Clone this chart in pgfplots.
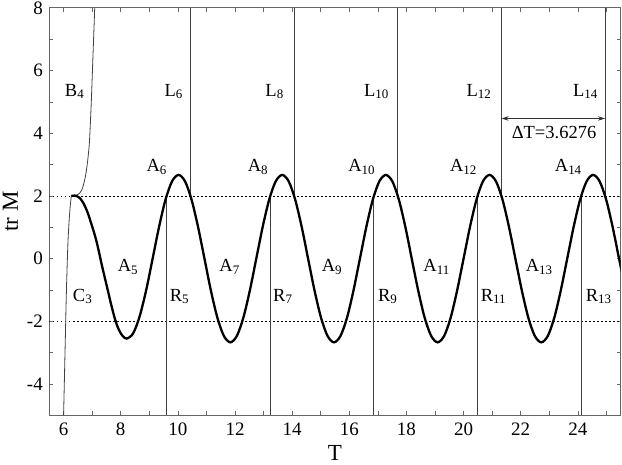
\documentclass[border=0pt]{standalone}
\usepackage{fontspec}
\setmainfont{Liberation Serif}
\usepackage{pgfplots}
\pgfplotsset{compat=1.18}
\usetikzlibrary{arrows.meta,calc}

\begin{document}
\begin{tikzpicture}
\begin{axis}[
  width=571.4pt, height=407.6pt, scale only axis,
  xmin=5.5, xmax=25.5, ymin=-5, ymax=8,
  xtick={6,8,...,24}, minor xtick={7,9,...,25},
  ytick={-4,-2,...,8}, minor ytick={-5,-3,...,7},
  major tick length=4pt, minor tick length=4pt,
  tick style={black!60, line width=0.6pt},
  axis line style={black!60, line width=0.8pt},
  /pgf/number format/assume math mode=true,
  ticklabel style={font=\fontsize{19}{22}\selectfont},
  xticklabel style={yshift=-4pt},
  yticklabel style={xshift=-3pt},
  xlabel={T}, ylabel={tr M},
  label style={font=\fontsize{23}{26}\selectfont},
  xlabel style={at={(axis description cs:0.5,0)}, anchor=base, yshift=-44.8pt, inner sep=0pt},
  ylabel style={at={($(axis description cs:0,0.5)+(-31.3pt,0)$)}, anchor=base, inner sep=0pt},
  clip=true,
]
\coordinate (bl) at (rel axis cs:0,0);
\coordinate (tr) at (rel axis cs:1,1);

% dotted reference lines
\addplot[black, line width=0.6pt, dash pattern=on 1.2pt off 2.8pt] coordinates {(5.5,2) (25.5,2)};
\addplot[black, line width=0.6pt, dash pattern=on 1.2pt off 2.8pt] coordinates {(5.5,-2) (25.5,-2)};

% thin branches
\addplot[black!75, line width=0.8pt, smooth] coordinates {
(6.00,-5.0) (6.05,-3.0) (6.10,-1.0) (6.15,0.45) (6.19,1.15) (6.23,1.65) (6.27,2.0)};
\addplot[black!75, line width=0.8pt, smooth] coordinates {
(6.27,2.00) (6.40,2.01) (6.53,2.06) (6.63,2.18) (6.70,2.37) (6.77,2.65) (6.82,2.95) (6.87,3.35) (6.91,3.8) (6.97,5.0) (7.03,6.5) (7.09,8.0)};
\addplot[black!75, line width=0.8pt] coordinates {(9.606,-5) (9.606,2)};
\addplot[black!75, line width=0.8pt] coordinates {(13.23,-5) (13.23,2)};
\addplot[black!75, line width=0.8pt] coordinates {(16.86,-5) (16.86,2)};
\addplot[black!75, line width=0.8pt] coordinates {(20.49,-5) (20.49,2)};
\addplot[black!75, line width=0.8pt] coordinates {(24.12,-5) (24.12,2)};
\addplot[black!75, line width=0.8pt] coordinates {(10.44,2) (10.44,8)};
\addplot[black!75, line width=0.8pt] coordinates {(14.07,2) (14.07,8)};
\addplot[black!75, line width=0.8pt] coordinates {(17.70,2) (17.70,8)};
\addplot[black!75, line width=0.8pt] coordinates {(21.33,2) (21.33,8)};
\addplot[black!75, line width=0.8pt] coordinates {(24.95,2) (24.95,8)};

% main curve
\addplot[black, line width=2.3pt, smooth] coordinates {
(6.27,2.00) (6.38,2.01) (6.47,1.99) (6.58,1.92) (6.70,1.76) (6.82,1.52) (6.94,1.20)
(7.15,0.56) (7.35,-0.25) (7.55,-1.02) (7.68,-1.52) (7.80,-1.93) (7.92,-2.24) (8.06,-2.46) (8.21,-2.55)
(8.437,-2.38) (8.663,-1.84) (8.890,-1.01) (9.117,0)
(9.344,1.022) (9.570,1.888) (9.797,2.467) (10.024,2.67) (10.250,2.467) (10.477,1.888) (10.704,1.022) (10.931,0)
(11.157,-1.022) (11.384,-1.888) (11.611,-2.467) (11.838,-2.67) (12.064,-2.467) (12.291,-1.888) (12.518,-1.022) (12.745,0)
(12.971,1.022) (13.198,1.888) (13.425,2.467) (13.652,2.67) (13.878,2.467) (14.105,1.888) (14.332,1.022) (14.558,0)
(14.785,-1.022) (15.012,-1.888) (15.239,-2.467) (15.465,-2.67) (15.692,-2.467) (15.919,-1.888) (16.146,-1.022) (16.372,0)
(16.599,1.022) (16.826,1.888) (17.053,2.467) (17.279,2.67) (17.506,2.467) (17.733,1.888) (17.960,1.022) (18.186,0)
(18.413,-1.022) (18.640,-1.888) (18.867,-2.467) (19.093,-2.67) (19.320,-2.467) (19.547,-1.888) (19.773,-1.022) (20.000,0)
(20.227,1.022) (20.454,1.888) (20.680,2.467) (20.907,2.67) (21.134,2.467) (21.361,1.888) (21.587,1.022) (21.814,0)
(22.041,-1.022) (22.268,-1.888) (22.494,-2.467) (22.721,-2.67) (22.948,-2.467) (23.175,-1.888) (23.401,-1.022) (23.628,0)
(23.855,1.022) (24.082,1.888) (24.308,2.467) (24.535,2.67) (24.762,2.467) (24.989,1.888) (25.215,1.022) (25.442,0)
(25.669,-1.022)};

% period arrow
\addplot[black!80, line width=0.7pt, {Stealth[length=7pt,width=4.5pt]}-{Stealth[length=7pt,width=4.5pt]}] coordinates {(21.33,4.47) (24.95,4.47)};

\tikzset{lbl/.style={anchor=base west, inner sep=0pt, font=\fontsize{18.5}{21}\selectfont}}
\node[lbl] at (axis cs:6.04,5.18) {B\textsubscript{4}};
\node[lbl] at (axis cs:9.53,5.18) {L\textsubscript{6}};
\node[lbl] at (axis cs:13.06,5.18) {L\textsubscript{8}};
\node[lbl] at (axis cs:16.51,5.18) {L\textsubscript{10}};
\node[lbl] at (axis cs:20.10,5.18) {L\textsubscript{12}};
\node[lbl] at (axis cs:23.83,5.18) {L\textsubscript{14}};
\node[lbl] at (axis cs:8.90,2.77) {A\textsubscript{6}};
\node[lbl] at (axis cs:12.44,2.77) {A\textsubscript{8}};
\node[lbl] at (axis cs:15.96,2.77) {A\textsubscript{10}};
\node[lbl] at (axis cs:19.52,2.77) {A\textsubscript{12}};
\node[lbl] at (axis cs:23.19,2.77) {A\textsubscript{14}};
\node[lbl] at (axis cs:7.89,-0.42) {A\textsubscript{5}};
\node[lbl] at (axis cs:11.45,-0.42) {A\textsubscript{7}};
\node[lbl] at (axis cs:15.03,-0.42) {A\textsubscript{9}};
\node[lbl] at (axis cs:18.59,-0.42) {A\textsubscript{11}};
\node[lbl] at (axis cs:22.17,-0.42) {A\textsubscript{13}};
\node[lbl] at (axis cs:6.32,-1.36) {C\textsubscript{3}};
\node[lbl] at (axis cs:9.71,-1.36) {R\textsubscript{5}};
\node[lbl] at (axis cs:13.33,-1.36) {R\textsubscript{7}};
\node[lbl] at (axis cs:17.00,-1.36) {R\textsubscript{9}};
\node[lbl] at (axis cs:20.60,-1.36) {R\textsubscript{11}};
\node[lbl] at (axis cs:24.27,-1.36) {R\textsubscript{13}};
\node[lbl] at (axis cs:21.68,3.83) {ΔT=3.6276};
\end{axis}
\pgfresetboundingbox
\path[use as bounding box] ($(bl)+(-49.3pt,-48.9pt)$) rectangle ($(tr)+(1.3pt,7.8pt)$);
\end{tikzpicture}
\end{document}
